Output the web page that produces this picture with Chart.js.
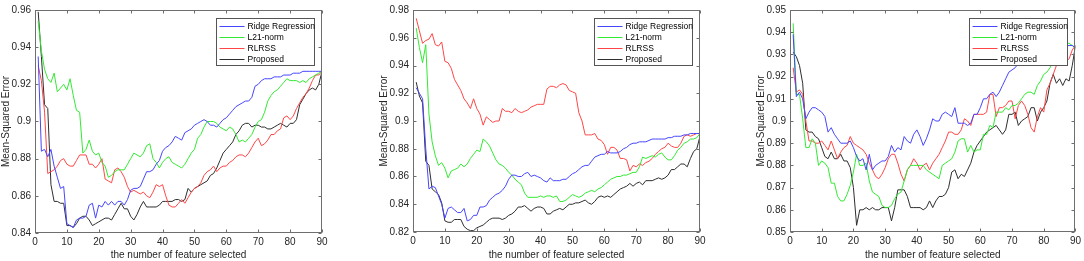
<!DOCTYPE html>
<html>
<head>
<meta charset="utf-8">
<script src="https://cdn.jsdelivr.net/npm/chart.js@4.4.0/dist/chart.umd.min.js"></script>
<style>
    body { margin: 0; background: #fff; width: 1084px; height: 261px; overflow: hidden; position: relative; }
    .panel { position: absolute; top: 0; height: 261px; }
</style>
</head>
<body>
<div class="panel" style="left:0;width:335px"><canvas id="panel1"></canvas></div>
<div class="panel" style="left:378px;width:335px"><canvas id="panel2"></canvas></div>
<div class="panel" style="left:755px;width:329px"><canvas id="panel3"></canvas></div>

<script>
/* ========================================
   Mean-squared error vs. number of selected features
   ======================================== */

const featureCounts = Array.from({ length: 90 }, (_, i) => i + 1);
const methodNames = ['Ridge Regression', 'L21-norm', 'RLRSS', 'Proposed'];
const methodColors = ['#4646ff', '#32ea32', '#ff4646', '#2e2e2e'];
const xTicks = [0, 10, 20, 30, 40, 50, 60, 70, 80, 90];

// panel 1
const p1YTicks = [0.84, 0.86, 0.88, 0.90, 0.92, 0.94, 0.96];
const p1Ridge = [0.935, 0.884, 0.885, 0.881, 0.885, 0.876, 0.870, 0.864, 0.865, 0.845,
    0.844, 0.843, 0.847, 0.848, 0.848, 0.849, 0.855, 0.856, 0.848, 0.855,
    0.854, 0.857, 0.855, 0.857, 0.855, 0.857, 0.857, 0.855, 0.858, 0.863,
    0.864, 0.864, 0.865, 0.869, 0.873, 0.873, 0.874, 0.877, 0.879, 0.884,
    0.886, 0.887, 0.889, 0.892, 0.891, 0.890, 0.894, 0.895, 0.896, 0.898,
    0.899, 0.900, 0.901, 0.900, 0.898, 0.898, 0.897, 0.899, 0.901, 0.902,
    0.904, 0.906, 0.908, 0.909, 0.910, 0.911, 0.911, 0.913, 0.919, 0.920,
    0.922, 0.923, 0.923, 0.923, 0.924, 0.924, 0.924, 0.925, 0.925, 0.925,
    0.926, 0.926, 0.926, 0.927, 0.927, 0.927, 0.927, 0.927, 0.927, 0.927];
const p1L21 = [0.954, 0.938, 0.928, 0.923, 0.921, 0.926, 0.916, 0.918, 0.920, 0.917,
    0.923, 0.914, 0.906, 0.905, 0.883, 0.885, 0.890, 0.884, 0.882, 0.883,
    0.878, 0.876, 0.870, 0.871, 0.873, 0.874, 0.874, 0.874, 0.877, 0.880,
    0.883, 0.882, 0.881, 0.883, 0.887, 0.888, 0.880, 0.878, 0.875, 0.878,
    0.880, 0.881, 0.878, 0.877, 0.876, 0.875, 0.877, 0.880, 0.883, 0.885,
    0.891, 0.893, 0.897, 0.900, 0.900, 0.900, 0.899, 0.897, 0.896, 0.895,
    0.897, 0.896, 0.893, 0.889, 0.890, 0.889, 0.891, 0.893, 0.897, 0.900,
    0.901, 0.905, 0.911, 0.914, 0.916, 0.917, 0.919, 0.921, 0.923, 0.922,
    0.922, 0.922, 0.921, 0.922, 0.921, 0.923, 0.924, 0.925, 0.926, 0.927];
const p1Rlrss = [0.930, 0.922, 0.905, 0.872, 0.873, 0.874, 0.876, 0.879, 0.880, 0.877,
    0.876, 0.876, 0.879, 0.882, 0.882, 0.882, 0.877, 0.877, 0.875, 0.877,
    0.880, 0.869, 0.868, 0.867, 0.874, 0.875, 0.873, 0.870, 0.865, 0.862,
    0.863, 0.862, 0.861, 0.862, 0.860, 0.859, 0.862, 0.866, 0.865, 0.866,
    0.860, 0.855, 0.854, 0.854, 0.856, 0.858, 0.856, 0.859, 0.862, 0.864,
    0.865, 0.867, 0.871, 0.873, 0.874, 0.876, 0.873, 0.875, 0.876, 0.876,
    0.878, 0.879, 0.881, 0.882, 0.882, 0.881, 0.883, 0.886, 0.889, 0.891,
    0.887, 0.888, 0.890, 0.893, 0.893, 0.895, 0.896, 0.902, 0.903, 0.901,
    0.903, 0.907, 0.910, 0.913, 0.915, 0.918, 0.922, 0.925, 0.925, 0.927];
const p1Proposed = [0.959, 0.935, 0.909, 0.907, 0.866, 0.857, 0.857, 0.856, 0.856, 0.844,
    0.844, 0.843, 0.845, 0.848, 0.849, 0.849, 0.847, 0.844, 0.845, 0.846,
    0.847, 0.848, 0.848, 0.847, 0.850, 0.853, 0.856, 0.853, 0.853, 0.849,
    0.847, 0.850, 0.854, 0.857, 0.854, 0.854, 0.854, 0.854, 0.855, 0.857,
    0.857, 0.857, 0.857, 0.858, 0.858, 0.857, 0.858, 0.864, 0.862, 0.864,
    0.865, 0.866, 0.867, 0.868, 0.871, 0.872, 0.875, 0.879, 0.883, 0.885,
    0.887, 0.889, 0.893, 0.895, 0.898, 0.899, 0.899, 0.897, 0.898, 0.898,
    0.897, 0.897, 0.896, 0.896, 0.897, 0.898, 0.899, 0.898, 0.897, 0.899,
    0.899, 0.901, 0.909, 0.912, 0.915, 0.917, 0.918, 0.917, 0.920, 0.927];

// panel 2
const p2YTicks = [0.82, 0.84, 0.86, 0.88, 0.90, 0.92, 0.94, 0.96, 0.98];
const p2Ridge = [0.924, 0.920, 0.916, 0.880, 0.851, 0.853, 0.852, 0.846, 0.840, 0.830,
    0.837, 0.838, 0.836, 0.834, 0.834, 0.837, 0.828, 0.829, 0.832, 0.832,
    0.838, 0.838, 0.839, 0.843, 0.845, 0.847, 0.848, 0.850, 0.853, 0.858,
    0.861, 0.861, 0.860, 0.860, 0.862, 0.863, 0.860, 0.861, 0.860, 0.859,
    0.857, 0.856, 0.859, 0.857, 0.857, 0.857, 0.858, 0.858, 0.860, 0.862,
    0.863, 0.865, 0.867, 0.868, 0.868, 0.871, 0.874, 0.875, 0.876, 0.876,
    0.878, 0.877, 0.877, 0.877, 0.878, 0.880, 0.881, 0.883, 0.884, 0.884,
    0.885, 0.885, 0.885, 0.886, 0.887, 0.887, 0.887, 0.887, 0.887, 0.888,
    0.888, 0.889, 0.889, 0.889, 0.890, 0.890, 0.891, 0.891, 0.891, 0.891];
const p2L21 = [0.967, 0.953, 0.942, 0.955, 0.905, 0.885, 0.875, 0.868, 0.870, 0.866,
    0.859, 0.864, 0.865, 0.866, 0.869, 0.867, 0.869, 0.873, 0.876, 0.879,
    0.878, 0.887, 0.885, 0.882, 0.877, 0.872, 0.869, 0.868, 0.866, 0.863,
    0.861, 0.858, 0.856, 0.854, 0.848, 0.845, 0.845, 0.845, 0.845, 0.846,
    0.845, 0.846, 0.846, 0.845, 0.846, 0.842, 0.842, 0.843, 0.845, 0.847,
    0.846, 0.845, 0.846, 0.848, 0.849, 0.850, 0.849, 0.851, 0.852, 0.854,
    0.856, 0.858, 0.859, 0.860, 0.860, 0.861, 0.861, 0.862, 0.863, 0.863,
    0.867, 0.874, 0.873, 0.874, 0.875, 0.874, 0.876, 0.877, 0.874, 0.872,
    0.872, 0.875, 0.879, 0.881, 0.884, 0.885, 0.887, 0.887, 0.888, 0.891];
const p2Rlrss = [0.974, 0.965, 0.956, 0.958, 0.959, 0.963, 0.955, 0.954, 0.957, 0.943,
    0.942, 0.938, 0.930, 0.926, 0.922, 0.916, 0.913, 0.909, 0.916, 0.909,
    0.905, 0.897, 0.903, 0.901, 0.899, 0.900, 0.900, 0.909, 0.907, 0.907,
    0.906, 0.909, 0.907, 0.906, 0.907, 0.908, 0.910, 0.911, 0.912, 0.912,
    0.912, 0.923, 0.925, 0.925, 0.924, 0.926, 0.927, 0.926, 0.922, 0.921,
    0.920, 0.906, 0.900, 0.890, 0.890, 0.890, 0.891, 0.887, 0.886, 0.883,
    0.876, 0.881, 0.881, 0.879, 0.873, 0.873, 0.872, 0.864, 0.868, 0.867,
    0.869, 0.868, 0.870, 0.871, 0.873, 0.876, 0.878, 0.880, 0.881, 0.884,
    0.882, 0.881, 0.881, 0.884, 0.889, 0.890, 0.889, 0.890, 0.891, 0.891];
const p2Proposed = [0.928, 0.918, 0.913, 0.871, 0.868, 0.851, 0.849, 0.847, 0.841, 0.828,
    0.827, 0.827, 0.829, 0.829, 0.829, 0.824, 0.822, 0.821, 0.821, 0.823,
    0.824, 0.825, 0.827, 0.829, 0.830, 0.830, 0.830, 0.829, 0.830, 0.832,
    0.833, 0.835, 0.838, 0.838, 0.839, 0.837, 0.835, 0.837, 0.838, 0.838,
    0.837, 0.833, 0.833, 0.835, 0.836, 0.837, 0.836, 0.838, 0.840, 0.840,
    0.841, 0.841, 0.842, 0.843, 0.841, 0.840, 0.842, 0.845, 0.846, 0.845,
    0.846, 0.845, 0.847, 0.849, 0.851, 0.852, 0.853, 0.855, 0.853, 0.855,
    0.856, 0.854, 0.857, 0.857, 0.857, 0.858, 0.859, 0.858, 0.859, 0.861,
    0.865, 0.865, 0.867, 0.869, 0.869, 0.867, 0.873, 0.878, 0.880, 0.889];

// panel 3
const p3YTicks = [0.85, 0.86, 0.87, 0.88, 0.89, 0.90, 0.91, 0.92, 0.93, 0.94, 0.95];
const p3Ridge = [0.939, 0.911, 0.913, 0.910, 0.901, 0.904, 0.906, 0.906, 0.905, 0.904,
    0.902, 0.895, 0.897, 0.894, 0.892, 0.890, 0.890, 0.890, 0.891, 0.888,
    0.884, 0.882, 0.883, 0.878, 0.885, 0.878, 0.880, 0.881, 0.882, 0.882,
    0.884, 0.889, 0.886, 0.888, 0.887, 0.893, 0.891, 0.890, 0.894, 0.896,
    0.893, 0.889, 0.892, 0.896, 0.901, 0.900, 0.900, 0.903, 0.904, 0.903,
    0.902, 0.906, 0.899, 0.899, 0.899, 0.898, 0.899, 0.903, 0.903, 0.906,
    0.910, 0.910, 0.912, 0.913, 0.911, 0.913, 0.916, 0.919, 0.922, 0.923,
    0.924, 0.926, 0.925, 0.926, 0.928, 0.929, 0.930, 0.931, 0.932, 0.933,
    0.934, 0.935, 0.935, 0.935, 0.935, 0.935, 0.934, 0.934, 0.934, 0.933];
const p3L21 = [0.944, 0.912, 0.912, 0.901, 0.888, 0.888, 0.892, 0.890, 0.880, 0.882,
    0.881, 0.879, 0.872, 0.872, 0.866, 0.864, 0.864, 0.867, 0.871, 0.877,
    0.885, 0.880, 0.880, 0.881, 0.873, 0.868, 0.867, 0.866, 0.862, 0.861,
    0.861, 0.862, 0.865, 0.867, 0.868, 0.873, 0.878, 0.880, 0.880, 0.880,
    0.880, 0.880, 0.878, 0.877, 0.876, 0.875, 0.874, 0.880, 0.881, 0.882,
    0.883, 0.886, 0.891, 0.892, 0.892, 0.886, 0.889, 0.886, 0.887, 0.887,
    0.894, 0.894, 0.898, 0.897, 0.904, 0.904, 0.904, 0.906, 0.905, 0.907,
    0.907, 0.908, 0.910, 0.912, 0.913, 0.913, 0.912, 0.916, 0.918, 0.921,
    0.922, 0.924, 0.929, 0.932, 0.934, 0.935, 0.935, 0.935, 0.934, 0.933];
const p3Rlrss = [0.924, 0.913, 0.914, 0.912, 0.900, 0.891, 0.891, 0.890, 0.890, 0.891,
    0.889, 0.887, 0.891, 0.887, 0.883, 0.886, 0.888, 0.889, 0.893, 0.890,
    0.889, 0.888, 0.887, 0.885, 0.881, 0.878, 0.875, 0.874, 0.876, 0.879,
    0.883, 0.885, 0.885, 0.881, 0.876, 0.873, 0.878, 0.880, 0.883, 0.881,
    0.878, 0.880, 0.881, 0.878, 0.881, 0.883, 0.885, 0.888, 0.891, 0.895,
    0.895, 0.894, 0.894, 0.896, 0.901, 0.900, 0.898, 0.903, 0.903, 0.903,
    0.903, 0.904, 0.912, 0.912, 0.902, 0.906, 0.906, 0.907, 0.909, 0.909,
    0.901, 0.907, 0.909, 0.907, 0.903, 0.897, 0.895, 0.902, 0.906, 0.904,
    0.914, 0.917, 0.921, 0.925, 0.926, 0.927, 0.927, 0.928, 0.932, 0.934];
const p3Proposed = [0.931, 0.929, 0.925, 0.917, 0.896, 0.895, 0.895, 0.893, 0.892, 0.888,
    0.884, 0.883, 0.886, 0.883, 0.883, 0.885, 0.882, 0.882, 0.879, 0.870,
    0.853, 0.860, 0.860, 0.861, 0.860, 0.861, 0.860, 0.860, 0.861, 0.861,
    0.861, 0.855, 0.861, 0.869, 0.869, 0.869, 0.866, 0.861, 0.861, 0.861,
    0.861, 0.860, 0.861, 0.864, 0.861, 0.864, 0.866, 0.866, 0.867, 0.870,
    0.877, 0.878, 0.874, 0.876, 0.875, 0.878, 0.881, 0.886, 0.889, 0.891,
    0.893, 0.895, 0.896, 0.897, 0.898, 0.896, 0.894, 0.896, 0.903, 0.903,
    0.904, 0.898, 0.900, 0.901, 0.902, 0.906, 0.906, 0.900, 0.904, 0.906,
    0.909, 0.917, 0.921, 0.917, 0.919, 0.916, 0.919, 0.918, 0.925, 0.934];

const FONT = 'Liberation Sans, Arial, Helvetica, sans-serif';

// box, inward ticks and boxed legend, MATLAB style
const matlabAxes = {
    id: 'matlabAxes',
    afterDraw(chart) {
        const { ctx, chartArea: a, scales } = chart;
        const L = Math.round(a.left) + 0.5, R = Math.round(a.right) - 0.5;
        const T = Math.round(a.top) + 0.5, B = Math.round(a.bottom) - 0.5;
        ctx.save();
        ctx.strokeStyle = '#6e6e6e';
        ctx.lineWidth = 1;
        ctx.strokeRect(L, T, R - L, B - T);
        ctx.beginPath();
        scales.x.ticks.forEach(t => {
            const px = Math.round(scales.x.getPixelForValue(t.value)) + 0.5;
            ctx.moveTo(px, B); ctx.lineTo(px, B - 3);
            ctx.moveTo(px, T); ctx.lineTo(px, T + 3);
        });
        scales.y.ticks.forEach(t => {
            const py = Math.round(scales.y.getPixelForValue(t.value)) + 0.5;
            ctx.moveTo(L, py); ctx.lineTo(L + 3, py);
            ctx.moveTo(R, py); ctx.lineTo(R - 3, py);
        });
        ctx.stroke();

        // legend
        const lw = 98, lh = 47;
        const lx = Math.round(a.right) - 8 - lw + 0.5, ly = Math.round(a.top) + 8 + 0.5;
        ctx.fillStyle = '#fff';
        ctx.fillRect(lx, ly, lw, lh);
        ctx.strokeStyle = '#555';
        ctx.strokeRect(lx, ly, lw, lh);
        ctx.font = '8.5px ' + FONT;
        ctx.textBaseline = 'middle';
        chart.data.datasets.forEach((ds, i) => {
            const ry = Math.round(ly + 7 + i * 11) + 0.5;
            ctx.strokeStyle = ds.borderColor;
            ctx.beginPath();
            ctx.moveTo(lx + 3, ry); ctx.lineTo(lx + 28, ry);
            ctx.stroke();
            ctx.fillStyle = '#000';
            ctx.fillText(ds.label, lx + 31, ry);
        });
        ctx.restore();
    }
};

function makePanel(id, series, yTicks, xAxisHeight, padRight) {
    const ctx = document.getElementById(id);
    if (!ctx) return;

    new Chart(ctx, {
        type: 'line',
        data: {
            labels: featureCounts,
            datasets: series.map((values, i) => ({
                label: methodNames[i],
                data: values.map((v, j) => ({ x: featureCounts[j], y: v })),
                borderColor: methodColors[i],
                borderWidth: 1,
                pointRadius: 0,
                tension: 0,
                fill: false
            }))
        },
        options: {
            responsive: true,
            maintainAspectRatio: false,
            animation: false,
            layout: { padding: { top: 6, right: padRight, left: 0, bottom: 0 } },
            plugins: {
                legend: { display: false },
                tooltip: { enabled: false }
            },
            scales: {
                x: {
                    type: 'linear',
                    min: 0,
                    max: 90,
                    afterBuildTicks: s => { s.ticks = xTicks.map(v => ({ value: v })); },
                    afterFit: s => { s.height = xAxisHeight; },
                    grid: { display: false, drawTicks: false },
                    border: { display: false },
                    ticks: {
                        padding: 3,
                        maxRotation: 0,
                        color: '#262626',
                        font: { family: FONT, size: 10 }
                    },
                    title: {
                        display: true,
                        text: 'the number of feature selected',
                        color: '#262626',
                        padding: { top: 0, bottom: 0 },
                        font: { family: FONT, size: 10 }
                    }
                },
                y: {
                    min: yTicks[0],
                    max: yTicks[yTicks.length - 1],
                    afterBuildTicks: s => { s.ticks = yTicks.map(v => ({ value: v })); },
                    afterFit: s => { s.width = 35; },
                    grid: { display: false, drawTicks: false },
                    border: { display: false },
                    ticks: {
                        padding: 4,
                        color: '#262626',
                        font: { family: FONT, size: 10 },
                        callback: v => String(+v.toFixed(2))
                    },
                    title: {
                        display: true,
                        text: 'Mean-Squared Error',
                        color: '#262626',
                        padding: { top: 0, bottom: 0 },
                        font: { family: FONT, size: 10 }
                    }
                }
            }
        },
        plugins: [matlabAxes]
    });
}

document.addEventListener('DOMContentLoaded', function() {
    makePanel('panel1', [p1Ridge, p1L21, p1Rlrss, p1Proposed], p1YTicks, 28, 13);
    makePanel('panel2', [p2Ridge, p2L21, p2Rlrss, p2Proposed], p2YTicks, 29, 13);
    makePanel('panel3', [p3Ridge, p3L21, p3Rlrss, p3Proposed], p3YTicks, 29, 5);
});
</script>
</body>
</html>
